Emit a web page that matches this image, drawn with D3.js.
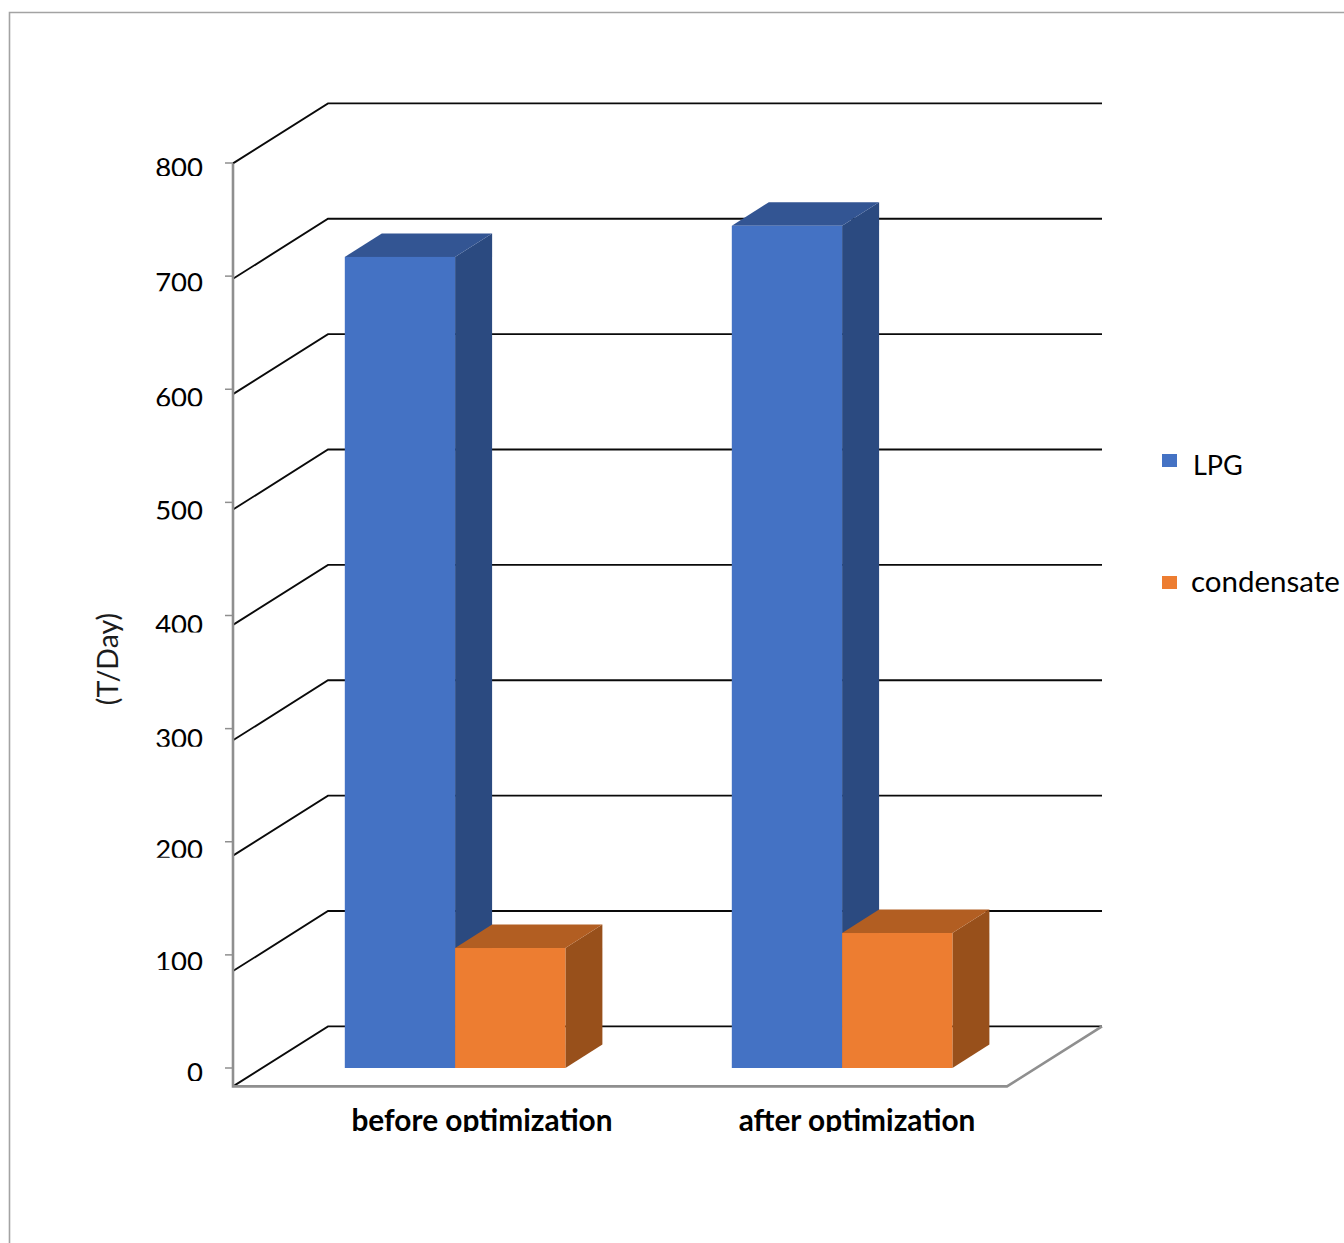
<!DOCTYPE html>
<html>
<head>
<meta charset="utf-8">
<script src="https://cdn.jsdelivr.net/npm/d3@7/dist/d3.min.js"></script>
<style>
  html, body { margin: 0; padding: 0; background: #fff; }
  svg { display: block; }
  text { font-family: Lato, "Noto Sans", sans-serif; fill: #000; }
</style>
</head>
<body>
<svg id="chart" width="1344" height="1243"></svg>
<script>
// Production by period, in tonnes per day
const categories = ["before optimization", "after optimization"];
const seriesNames = ["LPG", "condensate"];
const lpgValues = [703, 730];
const condensateValues = [104, 117];
const yTickValues = [0, 100, 200, 300, 400, 500, 600, 700, 800];

const palette = {
  LPG: { front: "#4472C4", top: "#335593", side: "#2B4A80" },
  condensate: { front: "#ED7D31", top: "#B25E22", side: "#98501B" }
};
const seriesValues = { LPG: lpgValues, condensate: condensateValues };

// Oblique projection of the chart's depth axis
const wallDx = 95, wallDy = -60;
const barDx = 37, barDy = -23.5;

const svg = d3.select("#chart");
const defs = svg.append("defs");

// Outer frame, open on the right and bottom
svg.append("path")
  .attr("d", d3.line()([[9.5, 1243], [9.5, 12.5], [1344, 12.5]]))
  .attr("fill", "none").attr("stroke", "#a3a3a3").attr("stroke-width", 1.6);

const yFloor = d3.scaleLinear().domain([0, 800]).range([1086.4, 163.4]);
const yBar = d3.scaleLinear().domain([0, 800]).range([1068, 145]);
const yTick = d3.scaleLinear().domain([0, 800]).range([1068, 163]);
const xGroup = d3.scaleBand().domain(categories).range([261.6, 1035.6]).paddingInner(0.43).paddingOuter(0.215);
const xSeries = d3.scaleBand().domain(seriesNames).range([0, xGroup.bandwidth()]);

const left = 233, right = 1007;

// Side-wall and back-wall gridlines
const grid = svg.append("g").attr("fill", "none").attr("stroke", "#0a0a0a").attr("stroke-width", 1.9);
grid.selectAll("path").data(yTickValues).join("path")
  .attr("d", v => d3.line()([
    [left, yFloor(v)],
    [left + wallDx, yFloor(v) + wallDy],
    [right + wallDx, yFloor(v) + wallDy]
  ]));

// Floor edges and the vertical axis
const axisColor = "#8f8f8f";
svg.append("path")
  .attr("d", d3.line()([
    [left, yFloor(800)], [left, yFloor(0)],
    [right, yFloor(0)], [right + wallDx, yFloor(0) + wallDy]
  ]))
  .attr("fill", "none").attr("stroke", axisColor).attr("stroke-width", 2.6);

svg.append("g").selectAll("line").data(yTickValues).join("line")
  .attr("x1", left - 8).attr("x2", left)
  .attr("y1", yTick).attr("y2", yTick)
  .attr("stroke", axisColor).attr("stroke-width", 1.5);

// Bars drawn as three faces: side, top, front
categories.forEach((cat, i) => {
  seriesNames.forEach(name => {
    const v = seriesValues[name][i];
    const x0 = xGroup(cat) + xSeries(name);
    const x1 = x0 + xSeries.bandwidth();
    const yt = yBar(v), yb = yBar(0);
    const c = palette[name];
    const g = svg.append("g").attr("class", "bar");
    g.append("path")
      .attr("d", d3.line()([[x1, yt], [x1 + barDx, yt + barDy], [x1 + barDx, yb + barDy], [x1, yb]]) + "Z")
      .attr("fill", c.side);
    g.append("path")
      .attr("d", d3.line()([[x0, yt], [x0 + barDx, yt + barDy], [x1 + barDx, yt + barDy], [x1, yt]]) + "Z")
      .attr("fill", c.top);
    g.append("rect")
      .attr("x", x0).attr("y", yt)
      .attr("width", xSeries.bandwidth()).attr("height", yb - yt)
      .attr("fill", c.front);
  });
});

// Text whose lower edge is trimmed at a given y
let clipId = 0;
function clippedText(parent, x, baseline, cutoff, str) {
  const id = "trim" + (clipId++);
  defs.append("clipPath").attr("id", id)
    .append("rect").attr("x", 0).attr("y", 0).attr("width", 1344).attr("height", cutoff);
  return parent.append("g").attr("clip-path", `url(#${id})`)
    .append("text").attr("x", x).attr("y", baseline).text(str);
}

// Value axis labels
const tickLabels = svg.append("g").attr("class", "y-labels");
const labelNudge = { 0: 14, 100: 16, 200: 17, 300: 19, 400: 18, 500: 18, 600: 18, 700: 16, 800: 14 };
yTickValues.forEach(v => {
  const base = yTick(v) + labelNudge[v];
  clippedText(tickLabels, 203, base, base - 1, String(v))
    .attr("text-anchor", "end").attr("font-size", 27.5);
});

// Category labels
const catLabels = svg.append("g").attr("class", "x-labels");
const catCentres = [482, 857];
categories.forEach((cat, i) => {
  clippedText(catLabels, catCentres[i], 1130.5, 1132, cat)
    .attr("text-anchor", "middle").attr("font-size", 29.8).attr("font-weight", 700);
});

// Axis title
svg.append("text")
  .attr("transform", "translate(118,659) rotate(-90)")
  .attr("text-anchor", "middle").attr("font-size", 28.5).style("fill", "#1c1c1c")
  .text("(T/Day)");

// Legend
const legendRows = [
  { name: "LPG", y: 454, textX: 1193, baseline: 475, size: 27 },
  { name: "condensate", y: 576, textX: 1191, baseline: 592, size: 29.5 }
];
const legend = svg.append("g").attr("class", "legend");
legendRows.forEach(r => {
  legend.append("rect").attr("x", 1162).attr("y", r.y).attr("width", 15).attr("height", 13)
    .attr("fill", palette[r.name].front);
  legend.append("text").attr("x", r.textX).attr("y", r.baseline)
    .attr("font-size", r.size).text(r.name);
});
</script>
</body>
</html>
